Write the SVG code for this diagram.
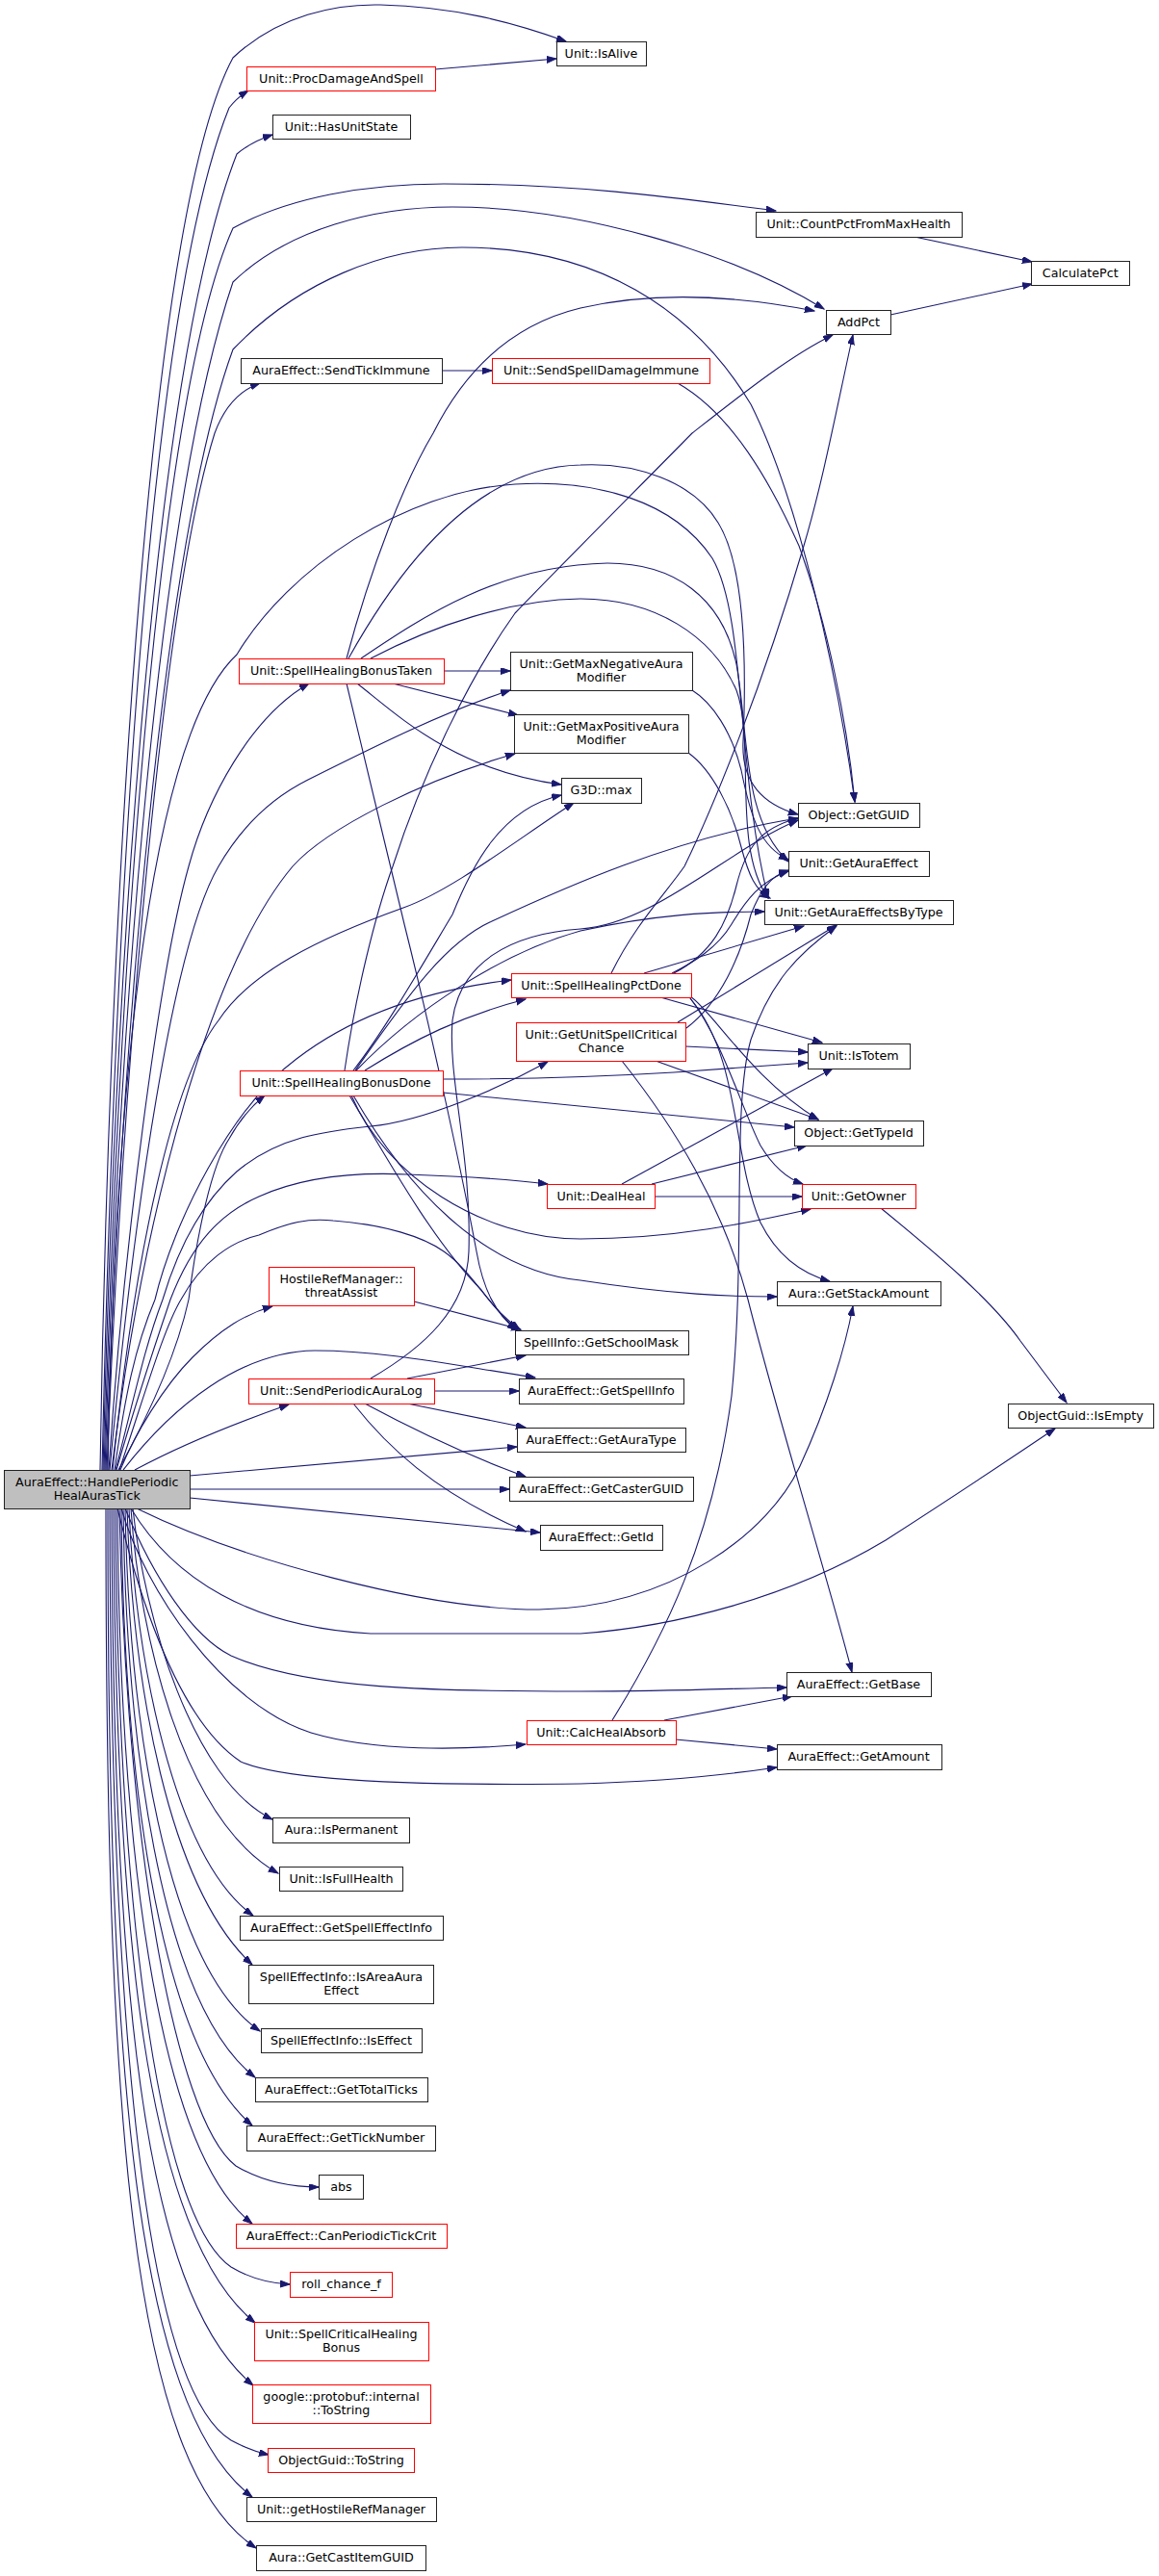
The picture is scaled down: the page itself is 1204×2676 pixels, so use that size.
<svg xmlns="http://www.w3.org/2000/svg" width="1204" height="2676" viewBox="0 0 1204 2676">
<style>
.n rect{fill:#fff;stroke:#222;stroke-width:1;shape-rendering:crispEdges}
.r rect{fill:#fff;stroke:#ff0000;stroke-width:1;shape-rendering:crispEdges}
.m rect{fill:#bfbfbf;stroke:#222;stroke-width:1;shape-rendering:crispEdges}
text{font-family:"DejaVu Sans",sans-serif;font-size:12.7px;text-anchor:middle;fill:#000}
#edges path{fill:none;stroke:#191970;stroke-width:1.1;marker-end:url(#a)}
</style>
<defs>
<marker id="a" markerUnits="userSpaceOnUse" markerWidth="11" markerHeight="8" refX="10" refY="3.5" orient="auto">
<path d="M0,0 L10,3.5 L0,7 z" fill="#191970" stroke="#191970" stroke-width="1"/>
</marker>
</defs>
<rect width="1204" height="2676" fill="#fff"/>
<g id="edges">
<path d="M104,1527 C112,1000 150,230 242,60 C290,15 350,4 395,5 C470,7 530,22 588,43"/>
<path d="M106,1527 C118,1000 150,330 238,112 C244,104 250,99 258,94"/>
<path d="M107,1527 C120,1000 160,380 246,160 C258,150 268,145 283,140"/>
<path d="M108,1527 C122,1050 160,420 242,237 C300,205 380,191 461,191 C600,191 700,205 806,219"/>
<path d="M109,1527 C124,1050 165,520 242,293 C300,237 390,215 470,215 C600,215 760,262 856,321"/>
<path d="M110,1527 C126,1080 170,560 242,363 C310,292 400,257 480,257 C620,257 720,320 780,420 C830,520 870,700 888,833"/>
<path d="M111,1527 C128,1100 170,620 223,450 C234,420 250,405 270,398"/>
<path d="M113,1527 C128,1300 165,1010 196,900 C215,830 260,745 321,710"/>
<path d="M114,1527 C140,1250 180,980 227,900 C250,860 280,830 320,810 C390,775 460,740 530,717"/>
<path d="M116,1527 C150,1250 220,1000 304,900 C340,860 440,810 535,783"/>
<path d="M117,1527 C140,1300 180,1120 227,1060 C260,1010 330,975 419,943 C470,925 540,870 596,834"/>
<path d="M112,1527 C120,1100 160,760 246,680 C300,590 420,510 535,503 C620,498 700,520 740,580 C775,640 765,800 798,933"/>
<path d="M119,1527 C130,1450 140,1400 161,1350 C180,1270 240,1150 308,1100 C360,1060 430,1030 531,1018"/>
<path d="M120,1527 C140,1450 150,1400 169,1350 C190,1280 220,1240 246,1217 C290,1180 340,1175 385,1170 C440,1165 520,1130 569,1103"/>
<path d="M121,1527 C140,1460 160,1400 177,1350 C200,1290 230,1260 269,1243 C320,1220 380,1218 423,1220 C480,1222 530,1225 569,1230"/>
<path d="M123,1527 C160,1460 185,1400 196,1350 C205,1280 220,1210 238,1183 C248,1165 260,1150 275,1138"/>
<path d="M124,1527 C150,1450 170,1380 188,1350 C210,1310 240,1290 269,1283 C300,1270 320,1265 346,1268 C400,1272 440,1285 461,1300 C490,1320 510,1360 537,1381"/>
<path d="M125,1527 C140,1490 170,1440 200,1410 C230,1380 255,1365 283,1357"/>
<path d="M140,1527 C190,1500 240,1480 300,1459"/>
<path d="M128,1527 C180,1460 250,1404 327,1403 C400,1403 470,1418 556,1431"/>
<path d="M197,1533 L537,1503"/>
<path d="M197,1547 L529,1547"/>
<path d="M197,1556 L561,1592"/>
<path d="M142,1567 C250,1620 440,1672 560,1672 C700,1670 800,1590 831,1523 C860,1460 878,1400 886,1357"/>
<path d="M136,1567 C180,1640 260,1690 385,1697 L603,1697 C700,1690 820,1660 920,1600 C990,1555 1050,1515 1096,1484"/>
<path d="M130,1567 C160,1640 200,1700 240,1720 C320,1755 450,1757 603,1757 C700,1757 760,1754 817,1753"/>
<path d="M126,1567 C150,1650 230,1770 323,1800 C390,1820 480,1818 546,1812"/>
<path d="M122,1567 C150,1680 190,1790 250,1830 C300,1852 450,1855 603,1853 C700,1850 760,1843 807,1836"/>
<path d="M138,1567 C150,1680 200,1850 283,1890"/>
<path d="M136,1567 C145,1700 190,1890 289,1946"/>
<path d="M134,1567 C140,1720 180,1930 263,1990"/>
<path d="M132,1567 C138,1750 175,1960 262,2041"/>
<path d="M130,1567 C134,1780 170,2040 270,2110"/>
<path d="M128,1567 C131,1800 165,2080 265,2158"/>
<path d="M126,1567 C128,1820 160,2120 262,2208"/>
<path d="M124,1567 C130,1900 180,2200 245,2250 C270,2265 300,2272 331,2272"/>
<path d="M122,1567 C124,1900 160,2230 262,2310"/>
<path d="M120,1567 C122,1950 160,2300 240,2355 C260,2367 280,2372 301,2373"/>
<path d="M118,1567 C120,2000 150,2320 265,2413"/>
<path d="M116,1567 C118,2050 145,2380 263,2478"/>
<path d="M114,1567 C115,2100 150,2480 240,2535 C255,2543 265,2547 279,2550"/>
<path d="M112,1567 C112,2150 140,2500 262,2594"/>
<path d="M110,1567 C110,2200 135,2560 266,2647"/>
<path d="M452,72 L578,61"/>
<path d="M459,385 L511,385"/>
<path d="M704,398 C760,430 800,500 830,567 C860,650 880,750 888,833"/>
<path d="M950,246 L1072,272"/>
<path d="M925,327 L1072,295"/>
<path d="M360,684 C385,590 420,500 450,450 C475,400 520,340 603,320 C690,300 780,310 846,323"/>
<path d="M461,697 L530,697"/>
<path d="M408,710 L538,743"/>
<path d="M371,710 C410,740 470,800 583,815"/>
<path d="M360,710 C380,790 400,880 420,960 C450,1080 480,1220 495,1300 C502,1340 515,1365 537,1382"/>
<path d="M362,684 C420,580 500,485 603,483 C660,480 720,500 746,543 C775,590 775,700 772,770 C770,810 790,835 829,846"/>
<path d="M375,684 C440,640 520,587 631,585 C700,585 750,620 765,690 C778,760 770,850 819,895"/>
<path d="M385,684 C450,650 530,623 603,622 C680,622 740,660 765,717 C785,770 760,880 798,933"/>
<path d="M460,1121 C520,1121 600,1120 700,1114 C760,1110 800,1107 839,1104"/>
<path d="M460,1135 L825,1171"/>
<path d="M379,1112 C430,1080 480,1055 546,1038"/>
<path d="M358,1112 C370,1030 390,950 408,900 C440,800 490,700 535,637 C580,590 650,520 719,450 C770,410 820,370 865,348"/>
<path d="M363,1138 C400,1200 450,1290 500,1340 C515,1360 525,1370 540,1381"/>
<path d="M365,1138 C400,1220 500,1287 603,1287 C700,1287 780,1270 842,1256"/>
<path d="M367,1138 C420,1230 500,1320 603,1330 C700,1345 760,1347 807,1347"/>
<path d="M367,1112 C400,1070 440,1000 470,950 C490,900 520,840 583,826"/>
<path d="M369,1112 C420,1040 460,980 511,957 C580,925 700,870 829,850"/>
<path d="M370,1112 C430,1050 520,990 603,967 C680,950 740,947 794,947"/>
<path d="M635,1011 C660,960 690,930 711,900 C740,840 790,720 835,567 C855,500 870,420 886,348"/>
<path d="M669,1011 L835,962"/>
<path d="M698,1011 C720,1000 745,985 760,960 C775,935 790,915 819,905"/>
<path d="M700,1011 C740,990 755,960 765,920 C775,880 790,860 829,850"/>
<path d="M686,1036 L854,1083"/>
<path d="M717,1035 C740,1050 780,1120 850,1163"/>
<path d="M717,1037 C750,1080 770,1150 790,1190 C805,1215 820,1225 834,1230"/>
<path d="M717,1037 C770,1100 760,1200 790,1270 C810,1310 840,1325 862,1331"/>
<path d="M712,1087 L839,1093"/>
<path d="M681,1102 L850,1163"/>
<path d="M704,1062 L869,961"/>
<path d="M713,1068 C750,1040 770,990 780,950 C790,925 800,910 819,904"/>
<path d="M646,1102 C700,1170 750,1250 777,1350 C810,1480 860,1640 885,1737"/>
<path d="M680,1243 L833,1243"/>
<path d="M677,1230 L838,1190"/>
<path d="M646,1230 L865,1110"/>
<path d="M423,1432 L546,1408"/>
<path d="M451,1445 L539,1445"/>
<path d="M423,1458 L546,1483"/>
<path d="M379,1458 C420,1480 480,1510 546,1534"/>
<path d="M367,1458 C400,1500 450,1550 546,1591"/>
<path d="M385,1432 C440,1400 485,1360 487,1300 C490,1200 465,1120 470,1060 C478,1000 530,970 603,965 C680,960 760,880 829,852"/>
<path d="M430,1352 L541,1381"/>
<path d="M719,717 C740,730 760,760 770,800 C780,850 790,880 819,893"/>
<path d="M715,782 C740,800 760,840 770,880 C778,910 785,925 800,933"/>
<path d="M636,1787 C690,1700 740,1600 760,1450 C775,1300 760,1150 780,1080 C800,1020 830,990 869,962"/>
<path d="M690,1787 L823,1762"/>
<path d="M702,1807 L807,1817"/>
<path d="M915,1255 C970,1300 1030,1350 1060,1393 C1080,1420 1095,1440 1108,1457"/>
</g>
<g id="n_main" class="m"><rect x="4.5" y="1527" width="192.5" height="40"/><text x="100.75" y="1543.5">AuraEffect::HandlePeriodic</text><text x="100.75" y="1557.5">HealAurasTick</text></g>
<g id="n_proc" class="r"><rect x="256.5" y="69" width="196" height="25"/><text x="354.5" y="85.5">Unit::ProcDamageAndSpell</text></g>
<g id="n_hasunit" class="n"><rect x="283" y="119" width="143" height="25"/><text x="354.5" y="135.5">Unit::HasUnitState</text></g>
<g id="n_ticki" class="n"><rect x="250" y="372" width="209" height="26"/><text x="354.5" y="389">AuraEffect::SendTickImmune</text></g>
<g id="n_shbt" class="r"><rect x="248" y="684" width="213" height="26"/><text x="354.5" y="701">Unit::SpellHealingBonusTaken</text></g>
<g id="n_shbd" class="r"><rect x="249" y="1112" width="211" height="26"/><text x="354.5" y="1129">Unit::SpellHealingBonusDone</text></g>
<g id="n_threat" class="r"><rect x="279" y="1316" width="151" height="40"/><text x="354.5" y="1332.5">HostileRefManager::</text><text x="354.5" y="1346.5">threatAssist</text></g>
<g id="n_spal" class="r"><rect x="258" y="1432" width="193" height="26"/><text x="354.5" y="1449">Unit::SendPeriodicAuraLog</text></g>
<g id="n_isperm" class="n"><rect x="283" y="1888" width="142" height="26"/><text x="354.5" y="1905">Aura::IsPermanent</text></g>
<g id="n_isfull" class="n"><rect x="290" y="1939" width="128" height="25"/><text x="354.5" y="1955.5">Unit::IsFullHealth</text></g>
<g id="n_gsei" class="n"><rect x="249" y="1990" width="211" height="25"/><text x="354.5" y="2006.5">AuraEffect::GetSpellEffectInfo</text></g>
<g id="n_isarea" class="n"><rect x="258.5" y="2041" width="192" height="40"/><text x="354.5" y="2057.5">SpellEffectInfo::IsAreaAura</text><text x="354.5" y="2071.5">Effect</text></g>
<g id="n_iseff" class="n"><rect x="271" y="2107" width="167" height="25"/><text x="354.5" y="2123.5">SpellEffectInfo::IsEffect</text></g>
<g id="n_total" class="n"><rect x="265" y="2158" width="179" height="25"/><text x="354.5" y="2174.5">AuraEffect::GetTotalTicks</text></g>
<g id="n_ticknum" class="n"><rect x="256.5" y="2208" width="196" height="26"/><text x="354.5" y="2225">AuraEffect::GetTickNumber</text></g>
<g id="n_abs" class="n"><rect x="331.5" y="2259" width="46" height="25"/><text x="354.5" y="2275.5">abs</text></g>
<g id="n_canper" class="r"><rect x="245" y="2310" width="219" height="25"/><text x="354.5" y="2326.5">AuraEffect::CanPeriodicTickCrit</text></g>
<g id="n_roll" class="r"><rect x="301" y="2360" width="106" height="26"/><text x="354.5" y="2377">roll_chance_f</text></g>
<g id="n_scrit" class="r"><rect x="264" y="2412" width="181" height="40"/><text x="354.5" y="2428.5">Unit::SpellCriticalHealing</text><text x="354.5" y="2442.5">Bonus</text></g>
<g id="n_pbts" class="r"><rect x="262" y="2477" width="185" height="40"/><text x="354.5" y="2493.5">google::protobuf::internal</text><text x="354.5" y="2507.5">::ToString</text></g>
<g id="n_ogts" class="r"><rect x="278.5" y="2543" width="152" height="25"/><text x="354.5" y="2559.5">ObjectGuid::ToString</text></g>
<g id="n_ghrm" class="n"><rect x="256" y="2594" width="197" height="25"/><text x="354.5" y="2610.5">Unit::getHostileRefManager</text></g>
<g id="n_gcig" class="n"><rect x="266.5" y="2644" width="176" height="26"/><text x="354.5" y="2661">Aura::GetCastItemGUID</text></g>
<g id="n_alive" class="n"><rect x="578" y="43" width="93" height="25"/><text x="624.5" y="59.5">Unit::IsAlive</text></g>
<g id="n_ssdi" class="r"><rect x="511.5" y="372" width="226" height="26"/><text x="624.5" y="389">Unit::SendSpellDamageImmune</text></g>
<g id="n_gmneg" class="n"><rect x="530" y="677" width="189" height="40"/><text x="624.5" y="693.5">Unit::GetMaxNegativeAura</text><text x="624.5" y="707.5">Modifier</text></g>
<g id="n_gmpos" class="n"><rect x="534" y="742" width="181" height="40"/><text x="624.5" y="758.5">Unit::GetMaxPositiveAura</text><text x="624.5" y="772.5">Modifier</text></g>
<g id="n_max" class="n"><rect x="583" y="808" width="83" height="26"/><text x="624.5" y="825">G3D::max</text></g>
<g id="n_shpd" class="r"><rect x="531" y="1011" width="187" height="25"/><text x="624.5" y="1027.5">Unit::SpellHealingPctDone</text></g>
<g id="n_guscc" class="r"><rect x="536.5" y="1062" width="176" height="40"/><text x="624.5" y="1078.5">Unit::GetUnitSpellCritical</text><text x="624.5" y="1092.5">Chance</text></g>
<g id="n_deal" class="r"><rect x="568.5" y="1230" width="112" height="25"/><text x="624.5" y="1246.5">Unit::DealHeal</text></g>
<g id="n_school" class="n"><rect x="535" y="1382" width="180" height="25"/><text x="624.5" y="1398.5">SpellInfo::GetSchoolMask</text></g>
<g id="n_gsi" class="n"><rect x="539" y="1432" width="171" height="26"/><text x="624.5" y="1449">AuraEffect::GetSpellInfo</text></g>
<g id="n_gat" class="n"><rect x="537" y="1483" width="175" height="25"/><text x="624.5" y="1499.5">AuraEffect::GetAuraType</text></g>
<g id="n_gcg" class="n"><rect x="529" y="1534" width="191" height="25"/><text x="624.5" y="1550.5">AuraEffect::GetCasterGUID</text></g>
<g id="n_gid" class="n"><rect x="561" y="1584" width="127" height="26"/><text x="624.5" y="1601">AuraEffect::GetId</text></g>
<g id="n_calc" class="r"><rect x="547" y="1787" width="155" height="25"/><text x="624.5" y="1803.5">Unit::CalcHealAbsorb</text></g>
<g id="n_count" class="n"><rect x="785" y="220" width="214" height="26"/><text x="892" y="237">Unit::CountPctFromMaxHealth</text></g>
<g id="n_addpct" class="n"><rect x="858.5" y="322" width="67" height="25"/><text x="892" y="338.5">AddPct</text></g>
<g id="n_guid" class="n"><rect x="829" y="834" width="126" height="25"/><text x="892" y="850.5">Object::GetGUID</text></g>
<g id="n_gae" class="n"><rect x="819" y="884" width="146" height="26"/><text x="892" y="901">Unit::GetAuraEffect</text></g>
<g id="n_gaebt" class="n"><rect x="794" y="935" width="196" height="25"/><text x="892" y="951.5">Unit::GetAuraEffectsByType</text></g>
<g id="n_totem" class="n"><rect x="839" y="1084" width="106" height="26"/><text x="892" y="1101">Unit::IsTotem</text></g>
<g id="n_typeid" class="n"><rect x="825" y="1164" width="134" height="26"/><text x="892" y="1181">Object::GetTypeId</text></g>
<g id="n_owner" class="r"><rect x="833" y="1230" width="118" height="25"/><text x="892" y="1246.5">Unit::GetOwner</text></g>
<g id="n_stack" class="n"><rect x="807" y="1331" width="170" height="25"/><text x="892" y="1347.5">Aura::GetStackAmount</text></g>
<g id="n_base" class="n"><rect x="817" y="1737" width="150" height="25"/><text x="892" y="1753.5">AuraEffect::GetBase</text></g>
<g id="n_amount" class="n"><rect x="807" y="1812" width="171" height="26"/><text x="892" y="1829">AuraEffect::GetAmount</text></g>
<g id="n_calcpct" class="n"><rect x="1071.5" y="271" width="101.5" height="25"/><text x="1122.25" y="287.5">CalculatePct</text></g>
<g id="n_isempty" class="n"><rect x="1047" y="1458" width="151" height="25"/><text x="1122.5" y="1474.5">ObjectGuid::IsEmpty</text></g>
</svg>
